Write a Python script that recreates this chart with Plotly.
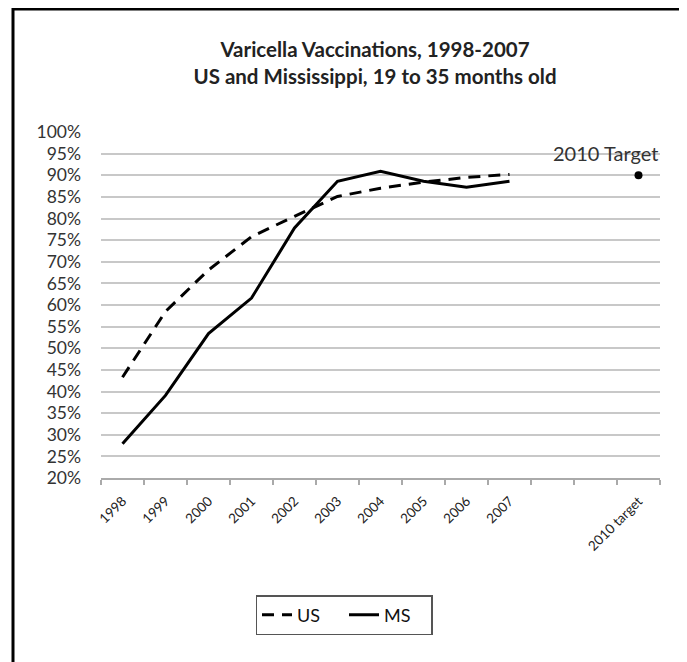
import plotly.graph_objects as go

years = ["1998", "1999", "2000", "2001", "2002", "2003", "2004", "2005", "2006", "2007"]
blank_cats = [" ", "  "]
target_cat = ["2010 target"]
categories = years + blank_cats + target_cat

us_values = [43.3, 58.5, 68.1, 75.8, 80.5, 85.1, 87.0, 88.4, 89.5, 90.2]
ms_values = [27.9, 39.1, 53.4, 61.6, 77.8, 88.6, 90.9, 88.6, 87.2, 88.6]
target_value = [90.0]

y_ticks = list(range(20, 101, 5))
y_ticktext = [f"{v}%" for v in y_ticks]

FONT = "Lato"
fig = go.Figure()

fig.add_trace(go.Scatter(
    x=years, y=us_values, name="US", mode="lines",
    line=dict(color="black", width=3, dash="12px,8px"),
))
fig.add_trace(go.Scatter(
    x=years, y=ms_values, name="MS", mode="lines",
    line=dict(color="black", width=3),
))
fig.add_trace(go.Scatter(
    x=target_cat, y=target_value, name="2010 Target", mode="markers",
    marker=dict(color="black", size=8), showlegend=False,
))

fig.add_annotation(
    x=target_cat[0], y=target_value[0], text="2010 Target", showarrow=False,
    xanchor="right", yanchor="middle", xshift=21, yshift=22,
    font=dict(family=FONT, size=20, color="#333333"),
)

# page body has an 8px margin: figure coordinates = screenshot - 8
W, H = 679, 654
L, R, T, B = 93, 27, 124, 184
pw, ph = W - L - R, H - T - B

def px_x(px):
    return (px - L) / pw

def px_y(py):
    return (H - B - py) / ph

fig.add_shape(
    type="rect", xref="paper", yref="paper",
    x0=px_x(5), x1=px_x(677), y0=px_y(662), y1=px_y(1),
    line=dict(color="black", width=3), fillcolor="rgba(0,0,0,0)", layer="above",
)

fig.update_layout(
    width=W, height=H,
    margin=dict(l=L, r=R, t=T, b=B),
    paper_bgcolor="white", plot_bgcolor="white",
    title=dict(
        text="<b>Varicella Vaccinations, 1998-2007</b><br><b>US and Mississippi, 19 to 35 months old</b>",
        x=367 / W, xref="container", xanchor="center",
        y=1 - 49 / H, yref="container", yanchor="middle",
        font=dict(family=FONT, size=20.5, color="#222222"),
    ),
    font=dict(family=FONT, color="#333333"),
    legend=dict(
        orientation="h", x=px_x(336), y=px_y(607), xanchor="center", yanchor="middle",
        bordercolor="#555555", borderwidth=1.5, bgcolor="white",
        font=dict(family=FONT, size=18, color="#111111"),
        entrywidth=42, tracegroupgap=0,
    ),
    xaxis=dict(
        type="category", categoryorder="array", categoryarray=categories,
        range=[-0.5, len(categories) - 0.5],
        tickson="boundaries", ticks="outside", ticklen=5, tickcolor="#aaaaaa", tickwidth=2,
        showline=True, linecolor="#aaaaaa", linewidth=2,
        showgrid=False, tickangle=-45,
        tickfont=dict(family=FONT, size=13.5, color="#222222"),
        ticklabelstandoff=8,
        fixedrange=True,
    ),
    yaxis=dict(
        range=[20, 100], tickvals=y_ticks, ticktext=y_ticktext,
        showgrid=True, gridcolor="#c8c8c8", gridwidth=2,
        zeroline=False, showline=False, ticks="",
        tickfont=dict(family=FONT, size=17.5, color="#333333"),
        ticklabelstandoff=19,
    ),
)

fig.write_html("out.html")
